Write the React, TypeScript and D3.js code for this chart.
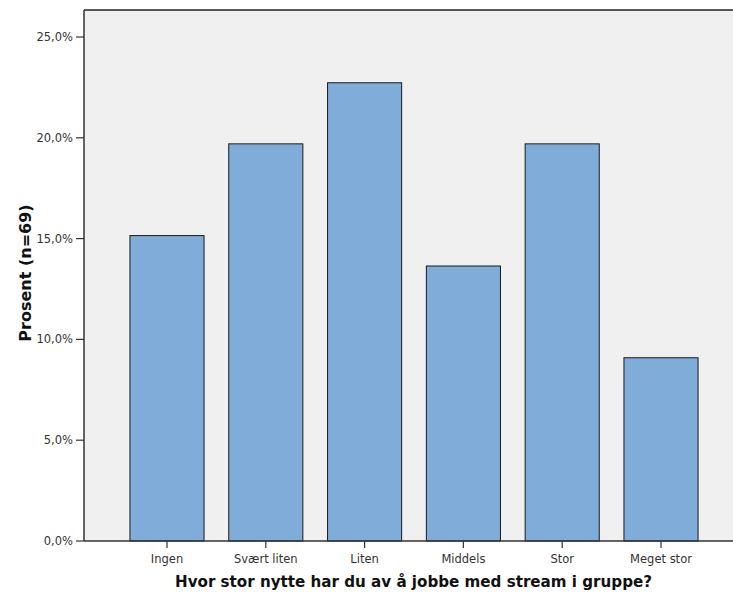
import React from "react";
import * as d3 from "d3";

const categories = ["Ingen", "Svært liten", "Liten", "Middels", "Stor", "Meget stor"];
const values = [15.15, 19.7, 22.73, 13.64, 19.7, 9.09];
const yTicks = [0, 5, 10, 15, 20, 25];
const yTitle = "Prosent (n=69)";
const xTitle = "Hvor stor nytte har du av å jobbe med stream i gruppe?";

export default function App() {
  const W = 733, H = 592;
  const left = 84, right = 733, top = 10, bottom = 541;
  const y = d3.scaleLinear().domain([0, 25]).range([541, 37]);
  const x = d3.scaleBand<string>().domain(categories).range([117.6, 710.4]).paddingInner(0.25).paddingOuter(0.125);
  const fmt = (v: number) => v.toFixed(1).replace(".", ",") + "%";
  const font = "'DejaVu Sans', sans-serif";
  return (
    <svg width={W} height={H} style={{ position: "absolute", left: 0, top: 0, background: "#fff" }}>
      <rect x={left} y={top} width={right - left} height={bottom - top} fill="#f0f0f0" />
      {categories.map((c, i) => (
        <rect key={c} x={x(c)!} y={y(values[i])} width={x.bandwidth()} height={y(0) - y(values[i])}
          fill="#80acd9" stroke="#1a1a1a" strokeWidth={1} />
      ))}
      <line x1={left} x2={right} y1={top} y2={top} stroke="#222" strokeWidth={1.5} />
      <line x1={left} x2={left} y1={top} y2={bottom} stroke="#333" strokeWidth={1.5} />
      <line x1={left} x2={right} y1={bottom} y2={bottom} stroke="#333" strokeWidth={1.5} />
      {yTicks.map(t => (
        <g key={t}>
          <line x1={76} x2={left} y1={y(t)} y2={y(t)} stroke="#333" strokeWidth={1.2} />
          <text x={73} y={y(t)} dy="0.35em" textAnchor="end" fontFamily={font} fontSize={11.5} fill="#333">{fmt(t)}</text>
        </g>
      ))}
      {categories.map(c => {
        const cx = x(c)! + x.bandwidth() / 2;
        return (
          <g key={c}>
            <line x1={cx} x2={cx} y1={bottom} y2={bottom + 7} stroke="#333" strokeWidth={1.2} />
            <text x={cx} y={563} textAnchor="middle" fontFamily={font} fontSize={11.5} fill="#333">{c}</text>
          </g>
        );
      })}
      <text x={413.5} y={587} textAnchor="middle" fontFamily={font} fontSize={16} fontWeight="bold" fill="#111"
        textLength={477} lengthAdjust="spacingAndGlyphs">{xTitle}</text>
      <text transform="translate(31,273) rotate(-90)" textAnchor="middle" fontFamily={font} fontSize={16} fontWeight="bold" fill="#111">{yTitle}</text>
    </svg>
  );
}
